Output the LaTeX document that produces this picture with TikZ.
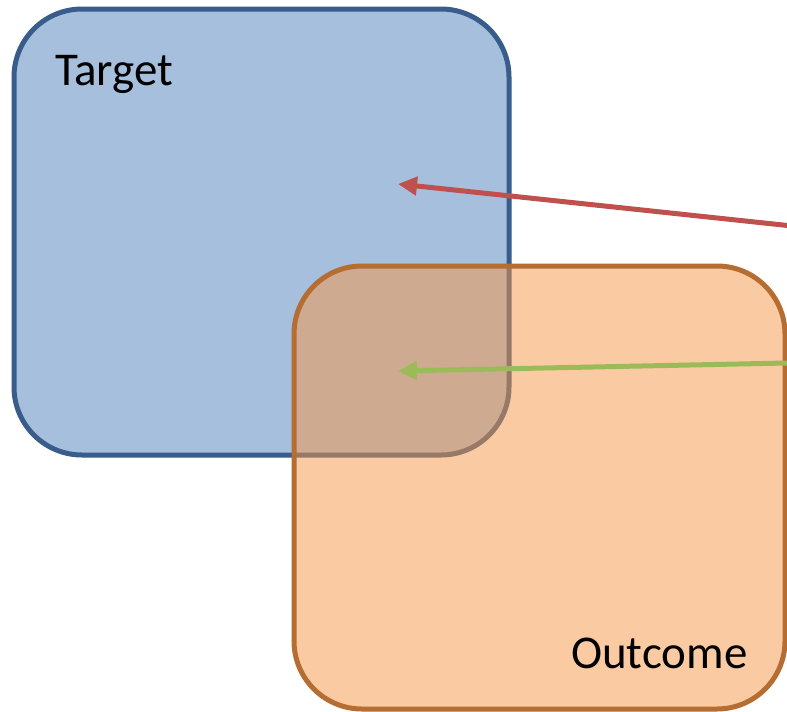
\documentclass[tikz,border=0pt]{standalone}
\usepackage{fontspec}
\setmainfont{Carlito}
\usetikzlibrary{arrows.meta}
\definecolor{tblue}{HTML}{4F81BD}
\definecolor{tblueline}{HTML}{385D8A}
\definecolor{torange}{HTML}{F79646}
\definecolor{torangeline}{HTML}{B66D31}
\definecolor{tred}{HTML}{C0504D}
\definecolor{tgreen}{HTML}{9BBB59}
\tikzset{
  setbox/.style={draw, line width=5pt, rounded corners=68pt, inner sep=0pt},
  setlabel/.style={anchor=base west, inner sep=0pt, font=\fontsize{47}{54}\selectfont},
  pointer/.style={line width=5pt, -{Triangle[length=19pt, width=18pt]}}
}
\begin{document}
\begin{tikzpicture}[x=1pt, y=-1pt]
  \useasboundingbox (0,0) rectangle (787,712);
  \fill[white] (0,0) rectangle (787,712);
  \clip (0,0) rectangle (787,712);
  % the two overlapping sets
  \node[setbox, draw=tblueline, fill=tblue, fill opacity=0.5,
        minimum width=495pt, minimum height=446pt] (target) at (261.5,232) {};
  \node[setbox, draw=torangeline, fill=torange, fill opacity=0.5,
        minimum width=491pt, minimum height=443pt] (outcome) at (539.5,487.5) {};
  % set names
  \node[setlabel] (targetlabel) at (55,85) {Target};
  \node[setlabel] (outcomelabel) at (571,668) {Outcome};
  % pointers coming in from the right
  \coordinate (redstart) at (797,226.5);
  \coordinate (redtip) at (398,184);
  \coordinate (greenstart) at (797,362.8);
  \coordinate (greentip) at (398,371);
  \draw[pointer, tred] (redstart) -- (redtip);
  \draw[pointer, tgreen] (greenstart) -- (greentip);
\end{tikzpicture}
\end{document}
